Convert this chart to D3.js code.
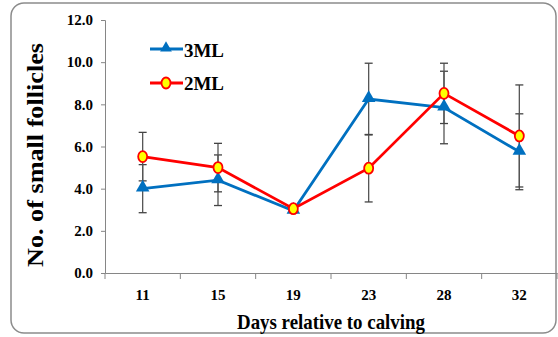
<!DOCTYPE html>
<html>
<head>
<meta charset="utf-8">
<script src="https://cdn.jsdelivr.net/npm/d3@7"></script>
<style>
  body { margin: 0; background: #fff; }
  text { font-family: "Liberation Serif", "Times New Roman", serif; font-weight: bold; }
</style>
</head>
<body>
<div id="vis"></div>
<script>
var width = 558
var height = 337

// data
var days = ["11", "15", "19", "23", "28", "32"]
var ml3 = [4.0, 4.4, 2.95, 8.25, 7.85, 5.75]
var ml3Err = [1.14, 1.2, 0, 1.7, 1.72, 1.8]
var ml2 = [5.52, 5.0, 3.05, 4.97, 8.52, 6.5]
var ml2Err = [1.15, 1.15, 0, 1.6, 1.43, 2.42]
var yTicks = [0, 2, 4, 6, 8, 10, 12]

var svg = d3.select("#vis")
  .append("svg")
  .attr("width", width)
  .attr("height", height)
  .style("display", "block")

// frame
svg.append("rect")
  .attr("x", 11).attr("y", 3)
  .attr("width", 545).attr("height", 330)
  .attr("rx", 13)
  .attr("fill", "none")
  .attr("stroke", "#8c8c8c")
  .attr("stroke-width", 1.5)

var x = d3.scaleBand().domain(days).range([105, 557])
var y = d3.scaleLinear().domain([0, 12]).range([273, 20])

// y axis
var yAxis = svg.append("g")
  .attr("transform", "translate(105,0)")
  .call(d3.axisLeft(y).tickValues(yTicks).tickFormat(d3.format(".1f")).tickSize(4).tickPadding(8))
  .attr("font-size", 15)
  .attr("font-family", null)
yAxis.select(".domain").attr("stroke", "#868686")
yAxis.selectAll(".tick line").attr("stroke", "#868686")
yAxis.selectAll("text").attr("fill", "#000")

// x axis
var xAxis = svg.append("g")
  .attr("transform", "translate(0,273)")
  .call(d3.axisBottom(x).tickSize(0).tickPadding(16))
  .attr("font-size", 15)
  .attr("font-family", null)
xAxis.select(".domain").attr("stroke", "#868686")
xAxis.selectAll("text").attr("fill", "#000")
xAxis.selectAll(".sep")
  .data(days.map(d => x(d)).concat([x.range()[1]]))
  .enter().append("line")
  .attr("x1", d => d).attr("x2", d => d)
  .attr("y1", 0).attr("y2", 6)
  .attr("stroke", "#868686")

var cx = d => x(d) + x.bandwidth() / 2

// error bars
function errorBars(vals, errs) {
  var g = svg.append("g")
  days.forEach(function(d, i) {
    if (!errs[i]) return
    var lo = vals[i] - errs[i], hi = vals[i] + errs[i]
    g.append("line")
      .attr("x1", cx(d)).attr("x2", cx(d))
      .attr("y1", y(lo)).attr("y2", y(hi))
      .attr("stroke", "#555").attr("stroke-width", 1.3)
    ;[lo, hi].forEach(function(v) {
      g.append("line")
        .attr("x1", cx(d) - 4).attr("x2", cx(d) + 4)
        .attr("y1", y(v)).attr("y2", y(v))
        .attr("stroke", "#444").attr("stroke-width", 1.3)
    })
  })
}
errorBars(ml3, ml3Err)
errorBars(ml2, ml2Err)

var line = d3.line().x((v, i) => cx(days[i])).y(v => y(v))

// 3ML series
svg.append("path")
  .datum(ml3)
  .attr("d", line)
  .attr("fill", "none")
  .attr("stroke", "#0070C0")
  .attr("stroke-width", 2.8)
var tri = d3.symbol().type(d3.symbolTriangle).size(80)
svg.append("g").selectAll("path")
  .data(ml3)
  .enter().append("path")
  .attr("d", tri)
  .attr("transform", (v, i) => `translate(${cx(days[i])},${y(v) - 1})`)
  .attr("fill", "#0070C0")

// 2ML series
svg.append("path")
  .datum(ml2)
  .attr("d", line)
  .attr("fill", "none")
  .attr("stroke", "#FF0000")
  .attr("stroke-width", 2.8)
svg.append("g").selectAll("ellipse")
  .data(ml2)
  .enter().append("ellipse")
  .attr("cx", (v, i) => cx(days[i]))
  .attr("cy", v => y(v))
  .attr("rx", 4.5).attr("ry", 5.5)
  .attr("fill", "#FFFF00")
  .attr("stroke", "#FF0000")
  .attr("stroke-width", 1.8)

// legend
var legend = svg.append("g")
legend.append("line")
  .attr("x1", 150).attr("x2", 183).attr("y1", 49).attr("y2", 49)
  .attr("stroke", "#0070C0").attr("stroke-width", 2.8)
legend.append("path")
  .attr("d", d3.symbol().type(d3.symbolTriangle).size(60))
  .attr("transform", "translate(166,48)")
  .attr("fill", "#0070C0")
legend.append("text")
  .attr("x", 184).attr("y", 57)
  .style("font-size", "19px")
  .attr("textLength", 40).attr("lengthAdjust", "spacingAndGlyphs")
  .text("3ML")
legend.append("line")
  .attr("x1", 150).attr("x2", 183).attr("y1", 83).attr("y2", 83)
  .attr("stroke", "#FF0000").attr("stroke-width", 2.8)
legend.append("ellipse")
  .attr("cx", 166).attr("cy", 83)
  .attr("rx", 4.5).attr("ry", 5.5)
  .attr("fill", "#FFFF00")
  .attr("stroke", "#FF0000")
  .attr("stroke-width", 1.8)
legend.append("text")
  .attr("x", 184).attr("y", 90)
  .style("font-size", "19px")
  .attr("textLength", 40).attr("lengthAdjust", "spacingAndGlyphs")
  .text("2ML")

// axis titles
svg.append("text")
  .attr("transform", "translate(43,155) rotate(-90)")
  .attr("text-anchor", "middle")
  .style("font-size", "23px")
  .attr("textLength", 224).attr("lengthAdjust", "spacingAndGlyphs")
  .text("No. of small follicles")

svg.append("text")
  .attr("x", 331).attr("y", 329)
  .attr("text-anchor", "middle")
  .style("font-size", "21px")
  .attr("textLength", 188).attr("lengthAdjust", "spacingAndGlyphs")
  .text("Days relative to calving")
</script>
</body>
</html>
